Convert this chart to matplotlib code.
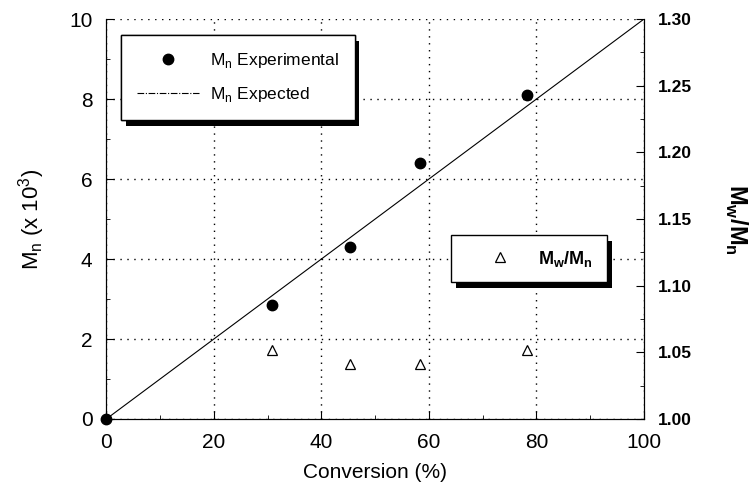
import matplotlib
matplotlib.use("Agg")
import matplotlib.pyplot as plt
from matplotlib.ticker import MultipleLocator
from matplotlib.lines import Line2D
import matplotlib.patheffects as pe

plt.rcParams['font.family'] = ['Liberation Sans', 'DejaVu Sans']

conversion = [0, 30.8, 45.3, 58.3, 78.2]
mn_exp = [0, 2.85, 4.3, 6.4, 8.1]
conv_pdi = [30.8, 45.3, 58.3, 78.2]
pdi = [1.052, 1.041, 1.041, 1.052]
expected_x = [0, 100]
expected_y = [0, 10]

fig = plt.figure(figsize=(7.54, 5.03), dpi=100)
ax = fig.add_axes([0.141, 0.167, 0.713, 0.795])
ax2 = ax.twinx()

ax.plot(expected_x, expected_y, color='black', lw=0.8)
ax.plot(conversion, mn_exp, 'o', color='black', ms=7.5, linestyle='none', clip_on=False, zorder=5)
ax2.plot(conv_pdi, pdi, '^', mfc='none', mec='black', ms=7, mew=0.9, linestyle='none')

ax.set_xlim(0, 100)
ax.set_ylim(0, 10)
ax2.set_ylim(1.0, 1.3)
ax.xaxis.set_major_locator(MultipleLocator(20))
ax.xaxis.set_minor_locator(MultipleLocator(10))
ax.yaxis.set_major_locator(MultipleLocator(2))
ax.yaxis.set_minor_locator(MultipleLocator(1))
ax2.yaxis.set_major_locator(MultipleLocator(0.05))
ax2.yaxis.set_minor_locator(MultipleLocator(0.025))
ax2.set_yticks(ax2.get_yticks())
ax2.set_yticklabels([f"{v:.2f}" for v in ax2.get_yticks()])
ax2.set_ylim(1.0, 1.3)

ax.grid(True, which='major', linestyle=(0, (1, 4)), color='black', lw=1.0)
ax.spines['top'].set_visible(False)
ax2.spines['top'].set_visible(False)

ax.tick_params(axis='both', which='both', direction='in', labelsize=15)
ax.tick_params(which='major', length=6)
ax.tick_params(which='minor', length=3)
ax.tick_params(axis='x', pad=10)
ax.tick_params(axis='y', pad=10)
ax2.tick_params(axis='y', which='both', direction='in', labelsize=12.5, pad=10)
ax2.tick_params(which='major', length=6)
ax2.tick_params(which='minor', length=3)
for lbl in ax2.get_yticklabels():
    lbl.set_fontweight('bold')

ax.set_xlabel('Conversion (%)', fontsize=15, labelpad=8)
ax.set_ylabel(r'M$_\mathregular{n}$ (x 10$^\mathregular{3}$)', fontsize=16, labelpad=16)
ax2.set_ylabel(r'M$_\mathregular{w}$/M$_\mathregular{n}$', fontsize=17, fontweight='bold',
               rotation=270, labelpad=41)

shadow_fx = [pe.SimplePatchShadow(offset=(3.5, -4), shadow_rgbFace='black', alpha=1), pe.Normal()]

h1 = [Line2D([], [], marker='o', color='black', linestyle='none', ms=7.5),
      Line2D([], [], color='black', lw=0.8, linestyle=(0, (6, 1.5, 1, 1.5)))]
leg1 = ax.legend(h1, [r'M$_\mathregular{n}$ Experimental', r'M$_\mathregular{n}$ Expected'],
                 loc='upper left', bbox_to_anchor=(0.028, 0.96), borderaxespad=0,
                 prop={'size': 12.5},
                 fancybox=False, edgecolor='black', framealpha=1, borderpad=0.9,
                 handlelength=3.6, labelspacing=0.9, handletextpad=0.6)
leg1.get_frame().set_linewidth(1.0)
leg1.get_frame().set_path_effects(shadow_fx)
ax.add_artist(leg1)

h2 = [Line2D([], [], marker='^', mfc='none', mec='black', color='black', linestyle='none', ms=7, mew=0.9)]
leg2 = ax2.legend(h2, [r'M$_\mathregular{w}$/M$_\mathregular{n}$'], loc='upper left',
                  bbox_to_anchor=(0.641, 0.46), borderaxespad=0,
                  prop={'weight': 'bold', 'size': 13},
                  fancybox=False, edgecolor='black', framealpha=1, borderpad=0.75,
                  handlelength=3.9, handletextpad=0.2)
leg2.get_frame().set_linewidth(1.0)
leg2.get_frame().set_path_effects(shadow_fx)

fig.savefig('out.png', dpi=100)
